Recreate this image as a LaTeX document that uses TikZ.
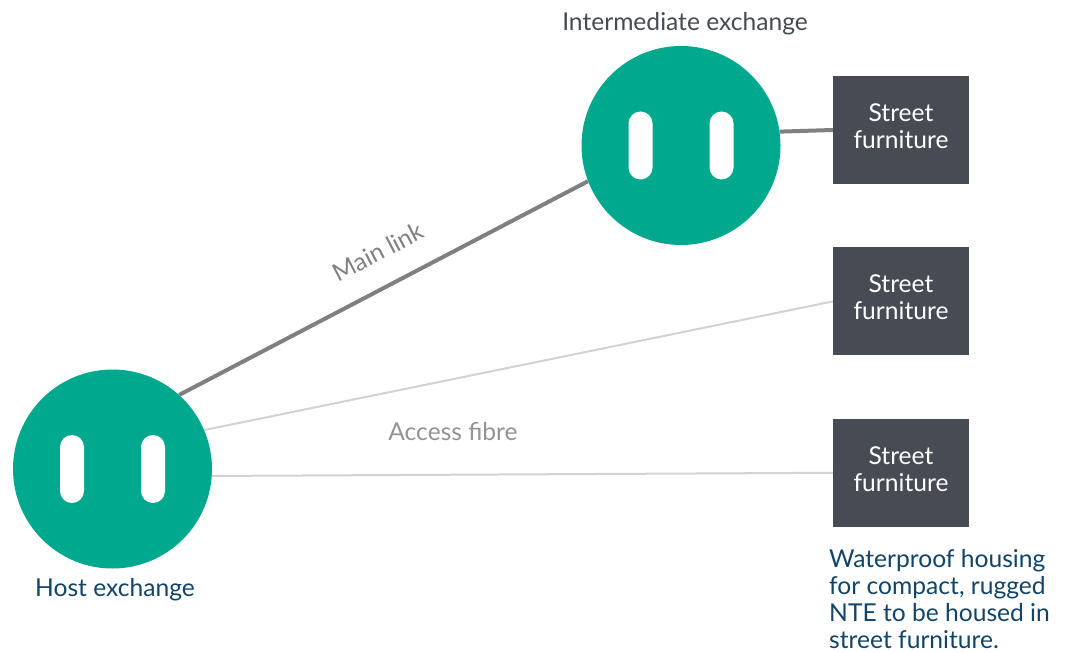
\documentclass[tikz,border=0pt]{standalone}
\usepackage{fontspec}
\setmainfont{Lato}
\usetikzlibrary{positioning}
\definecolor{exgreen}{RGB}{0,168,141}
\definecolor{boxgrey}{RGB}{71,75,84}
\definecolor{linkgrey}{RGB}{128,128,128}
\definecolor{fibregrey}{RGB}{210,210,210}
\definecolor{noteblue}{RGB}{18,68,104}
\definecolor{labelgrey}{RGB}{70,74,82}

\begin{document}
\begin{tikzpicture}[x=1pt, y=-1pt, node distance=63pt, every node/.style={font=\fontsize{24.6}{27}\selectfont},
  exch/.style={circle,fill=exgreen,minimum size=199pt,inner sep=0},
  pill/.style={fill=white,rounded corners=12pt,minimum width=24pt,minimum height=68pt,inner sep=0},
  street/.style={fill=boxgrey,text=white,minimum width=136pt,minimum height=108pt,align=center,inner sep=0,text depth=8pt},
  mainlink/.style={draw=linkgrey,line width=4pt},
  fibre/.style={draw=fibregrey,line width=2pt}]
\useasboundingbox (0,0) rectangle (1067,652);

% exchanges
\node[exch] (host) at (112.5,469) {};
\node[exch] (inter) at (681,145.5) {};
\foreach \ex in {host,inter}
  \foreach \dx/\side in {-40.5/l,40.5/r}
    \node[pill] (\ex-\side) at ([xshift=\dx pt]\ex.center) {};

% street cabinets
\node[street] (sf1) at (901,130) {Street\\furniture};
\node[street,below=of sf1] (sf2) {Street\\furniture};
\node[street,below=of sf2] (sf3) {Street\\furniture};

% links
\draw[mainlink] (host.48) -- (inter.201);
\draw[mainlink] (inter.8) -- (sf1.west);
\draw[fibre] (host.23) -- (sf2.west);
\draw[fibre] (host.-4) -- (sf3.west);

% labels
\node[text=labelgrey] (interlbl) at (685,24) {Intermediate exchange};
\node[text=noteblue] (hostlbl) at (115,590) {Host exchange};
\node[text=linkgrey,rotate=27.5] (mainlbl) at (378,252) {Main link};
\node[text=linkgrey!85] (fibrelbl) at (453,432) {Access fibre};
\node[text=noteblue,align=left,anchor=north west,inner sep=0] (note) at (829,549)
  {Waterproof housing\\for compact, rugged\\NTE to be housed in\\street furniture.};
\end{tikzpicture}
\end{document}
